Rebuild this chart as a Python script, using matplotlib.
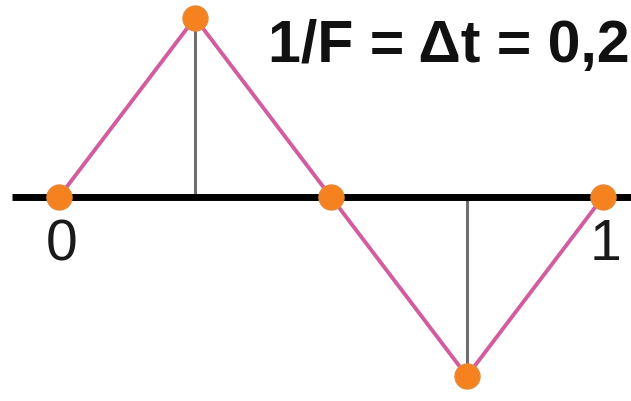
import matplotlib
matplotlib.use("Agg")
import matplotlib.pyplot as plt

# data
t = [0, 0.25, 0.5, 0.75, 1.0]
y = [0, 1, 0, -1, 0]
tick_vals = [0, 1]
tick_labels = ["0", "1"]
title_text = "1/F = Δt = 0,2"

W, H = 631, 401
fig = plt.figure(figsize=(W / 100, H / 100), dpi=100)
ax = fig.add_axes([0, 0, 1, 1])
ax.set_xlim(-0.1085, 1.0515)
ax.set_ylim(-1.139, 1.10)
ax.axis("off")

# stems
for xi, yi in zip(t, y):
    if yi != 0:
        ax.vlines(xi, 0, yi, color="#6e6e6e", lw=2.2, zorder=2)

# axis line
ax.hlines(0, -0.086, 1.06, color="black", lw=5, zorder=3)

# pink polyline
ax.plot(t, y, color="#d35c9e", lw=2.8, zorder=4, solid_capstyle="round")

# markers
ax.plot(t, y, ls="none", marker="o", markersize=18, markerfacecolor="#f5821f",
        markeredgecolor="#e58a3a", markeredgewidth=1, zorder=5)

# tick labels
for v, lab in zip(tick_vals, tick_labels):
    ax.text(v + 0.004, -0.27, lab, ha="center", va="center", fontsize=41,
            family="Liberation Sans", color="#1a1a1a", zorder=6)

fig.text(268 / W, 1 - 62 / H, title_text, ha="left", va="baseline",
         fontsize=42.5, fontweight="bold", family="Liberation Sans", color="#111111")

fig.savefig("out.png", dpi=100)
